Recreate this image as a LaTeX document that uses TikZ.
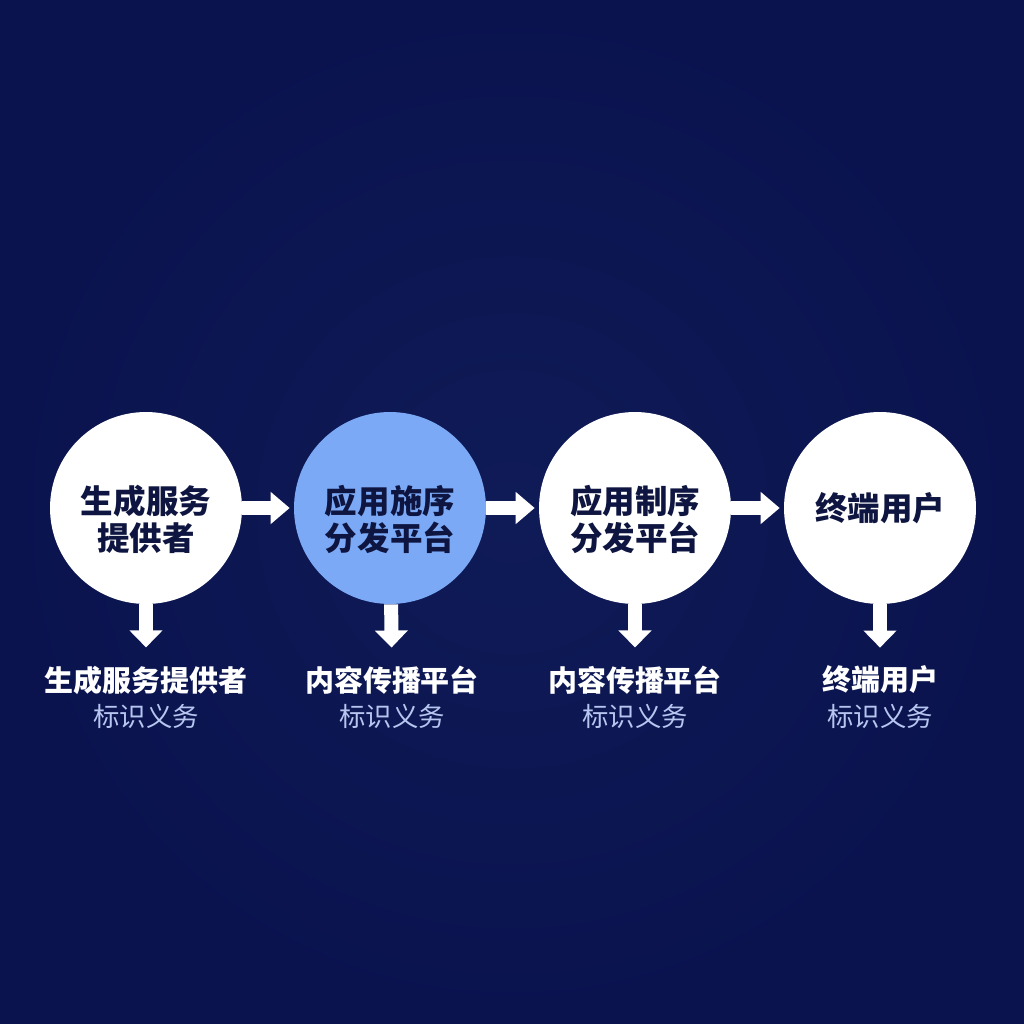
\documentclass[tikz,border=0pt]{standalone}
\usepackage{fontspec}
\setmainfont{Noto Sans CJK SC}
\usetikzlibrary{arrows.meta}

\definecolor{navybg}{HTML}{0A134E}
\definecolor{navyglow}{HTML}{0F1B57}
\definecolor{stepblue}{HTML}{7BA9F6}
\definecolor{inktext}{HTML}{0E1540}
\definecolor{dutytext}{HTML}{B6C6F0}

\begin{document}
\begin{tikzpicture}[x=0.02cm,y=-0.02cm,
  stage/.style={circle,fill=white,minimum size=3.84cm,inner sep=0pt,align=center,
    text=inktext,font=\fontsize{18.5}{21}\selectfont\bfseries},
  twoline/.style={text height=50pt},
  party/.style={inner sep=0pt,text=white,font=\fontsize{16.5}{20}\selectfont\bfseries},
  duty/.style={inner sep=0pt,text=dutytext,font=\fontsize{15}{18}\selectfont},
  flowarrow/.style={draw=white,line width=0.28cm,-{Triangle[width=0.62cm,length=0.38cm]},shorten >=0.08cm},
  downarrow/.style={draw=white,line width=0.28cm,-{Triangle[width=0.64cm,length=0.34cm]},shorten >=0.36cm}]
  \shade[inner color=navyglow,outer color=navybg] (0,0) rectangle (1024,1024);

  % stages
  \node[stage,twoline] (c1) at (146,508) {生成服务\\提供者};
  \node[stage,twoline,fill=stepblue] (c2) at (390,508) {应用施序\\分发平台};
  \node[stage,twoline] (c3) at (635,508) {应用制序\\分发平台};
  \node[stage] (c4) at (880,508) {终端用户};

  % duties
  \node[party] (t1) at (146,680) {生成服务提供者};
  \node[party] (t2) at (392,680) {内容传播平台};
  \node[party] (t3) at (635,680) {内容传播平台};
  \node[party] (t4) at (880,680) {终端用户};
  \foreach \i/\x in {1/146,2/392,3/635,4/880}
    \node[duty] (s\i) at (\x,716) {标识义务};

  \draw[flowarrow] (c1) -- (c2);
  \draw[flowarrow] (c2) -- (c3);
  \draw[flowarrow] (c3) -- (c4);
  \foreach \i in {1,...,4}
    \draw[downarrow] (c\i) -- (t\i);
\end{tikzpicture}
\end{document}
